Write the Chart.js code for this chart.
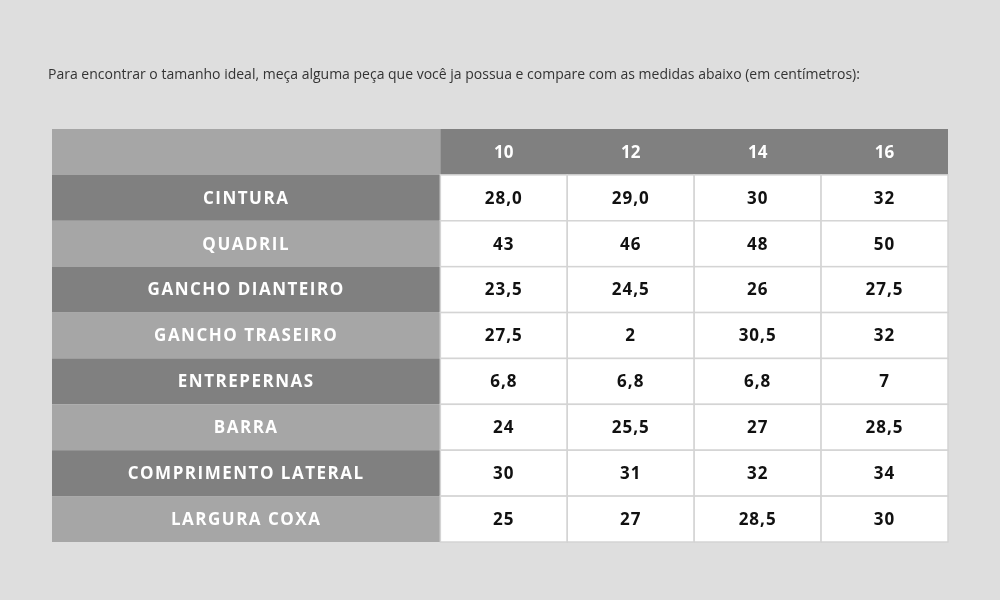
<!DOCTYPE html>
<html>
<head>
<meta charset="utf-8">
<script src="https://cdn.jsdelivr.net/npm/chart.js@4"></script>
<style>
  html, body { margin: 0; padding: 0; background: #dedede; }
  #wrap { width: 1000px; height: 600px; }
</style>
</head>
<body>
<div id="wrap"><canvas id="sizeChart" width="1000" height="600"></canvas></div>
<script>
const intro = 'Para encontrar o tamanho ideal, meça alguma peça que você ja possua e compare com as medidas abaixo (em centímetros):';
const sizes = ['10', '12', '14', '16'];
const measures = ['CINTURA', 'QUADRIL', 'GANCHO DIANTEIRO', 'GANCHO TRASEIRO', 'ENTREPERNAS', 'BARRA', 'COMPRIMENTO LATERAL', 'LARGURA COXA'];
const size10 = ['28,0', '43', '23,5', '27,5', '6,8', '24', '30', '25'];
const size12 = ['29,0', '46', '24,5', '2', '6,8', '25,5', '31', '27'];
const size14 = ['30', '48', '26', '30,5', '6,8', '27', '32', '28,5'];
const size16 = ['32', '50', '27,5', '32', '7', '28,5', '34', '30'];
const columns = [size10, size12, size14, size16];

const labelWidth = 3.06; // label column in value-column units

const tablePlugin = {
  id: 'tablePlugin',
  beforeDraw(chart) {
    const { ctx, scales: { x, y } } = chart;
    const edges = [0, labelWidth];
    sizes.forEach((s, i) => edges.push(labelWidth + i + 1));
    const rowTop = (r) => y.getPixelForValue(r);
    const rowBot = (r) => y.getPixelForValue(r + 1);

    ctx.save();
    ctx.fillStyle = '#333';
    ctx.font = '14px "Open Sans"';
    ctx.textBaseline = 'middle';
    ctx.fillText(intro, 48, 75);

    // header row
    ctx.fillStyle = '#a6a6a6';
    ctx.fillRect(x.getPixelForValue(0), rowTop(0), x.getPixelForValue(labelWidth) - x.getPixelForValue(0), rowBot(0) - rowTop(0));
    ctx.fillStyle = '#808080';
    ctx.fillRect(x.getPixelForValue(labelWidth), rowTop(0), x.getPixelForValue(edges[edges.length - 1]) - x.getPixelForValue(labelWidth), rowBot(0) - rowTop(0));
    ctx.textAlign = 'center';
    ctx.font = 'bold 17px "Open Sans"';
    ctx.fillStyle = '#fff';
    sizes.forEach((s, i) => {
      const cx = (x.getPixelForValue(edges[i + 1]) + x.getPixelForValue(edges[i + 2])) / 2;
      ctx.fillText(s, cx, (rowTop(0) + rowBot(0)) / 2 + 1);
    });

    measures.forEach((m, r) => {
      const t = rowTop(r + 1), b = rowBot(r + 1);
      const x0 = x.getPixelForValue(0), x1 = x.getPixelForValue(labelWidth);
      ctx.fillStyle = r % 2 === 0 ? '#808080' : '#a6a6a6';
      ctx.fillRect(x0, t, x1 - x0, b - t);
      ctx.fillStyle = '#fff';
      ctx.font = 'bold 17px "Open Sans"';
      ctx.letterSpacing = '1.5px';
      ctx.fillText(m, (x0 + x1) / 2, (t + b) / 2 + 1);
      ctx.letterSpacing = '0px';
      columns.forEach((col, c) => {
        const cl = x.getPixelForValue(edges[c + 1]), cr = x.getPixelForValue(edges[c + 2]);
        ctx.fillStyle = '#fff';
        ctx.fillRect(cl, t, cr - cl, b - t);
        ctx.strokeStyle = '#d4d4d4';
        ctx.lineWidth = 1.5;
        ctx.strokeRect(cl, t, cr - cl, b - t);
        ctx.fillStyle = '#111';
        ctx.font = 'bold 17px "Open Sans"';
        ctx.letterSpacing = '1px';
        ctx.fillText(col[r], (cl + cr) / 2, (t + b) / 2 + 1);
        ctx.letterSpacing = '0px';
      });
    });
    ctx.restore();
  }
};

new Chart(document.getElementById('sizeChart'), {
  type: 'scatter',
  data: { datasets: [{ data: [] }] },
  options: {
    responsive: false,
    animation: false,
    layout: { padding: { left: 52, right: 52, top: 129, bottom: 58 } },
    plugins: { legend: { display: false }, tooltip: { enabled: false } },
    scales: {
      x: { type: 'linear', min: 0, max: labelWidth + sizes.length, display: false },
      y: { type: 'linear', min: 0, max: measures.length + 1, reverse: true, display: false }
    }
  },
  plugins: [tablePlugin]
});
</script>
</body>
</html>
